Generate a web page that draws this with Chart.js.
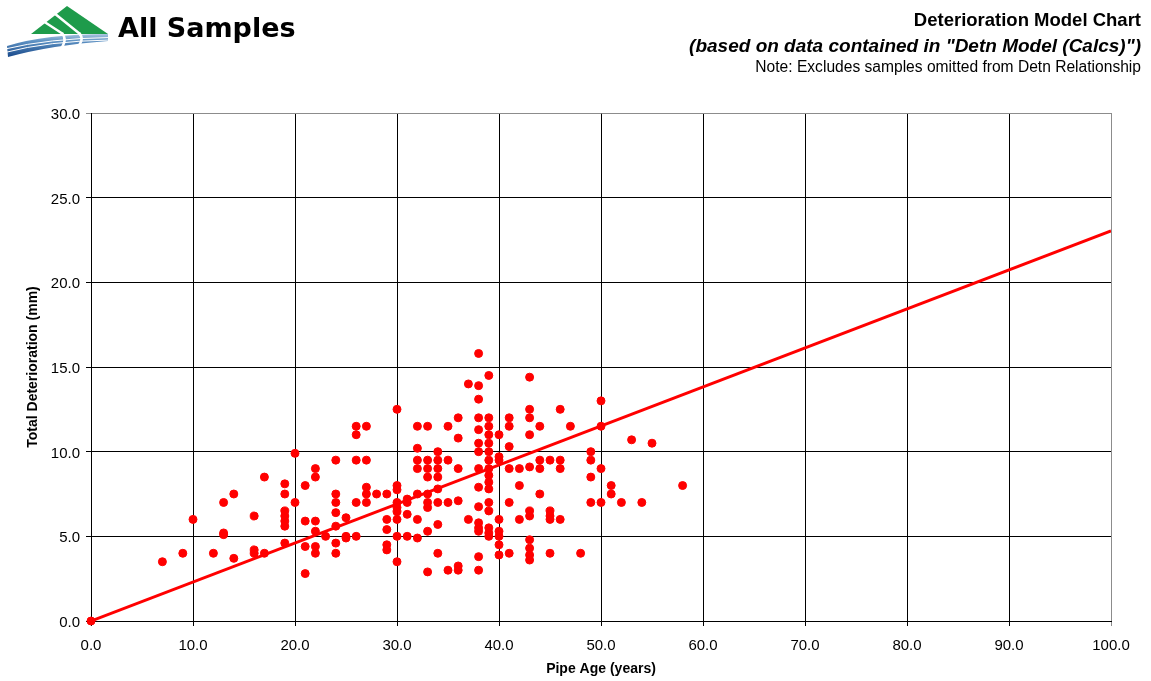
<!DOCTYPE html>
<html>
<head>
<meta charset="utf-8">
<script src="https://cdn.jsdelivr.net/npm/chart.js@4"></script>
<style>
    body { margin: 0; background: #fff; }
    #wrap { position: relative; width: 1151px; height: 681px; overflow: hidden; }
    #chart { position: absolute; left: 0; top: 0; }
    #logo { position: absolute; left: 0; top: 0; }
    .hdr { position: absolute; line-height: 1; white-space: nowrap; color: #000; }
    #title { left: 118px; top: 14px; font: bold 27px "DejaVu Sans", sans-serif; line-height: 1; }
    #line1 { right: 10px; top: 11px; font: bold 18.5px "Liberation Sans", Arial, sans-serif; line-height: 1; }
    #line2 { right: 10px; top: 36px; font: italic bold 19px "Liberation Sans", Arial, sans-serif; line-height: 1; }
    #line3 { right: 10px; top: 59px; font: 15.6px "Liberation Sans", Arial, sans-serif; line-height: 1; }
</style>
</head>
<body>
<div id="wrap">
    <canvas id="chart" width="1151" height="681"></canvas>
    <canvas id="logo" width="115" height="60"></canvas>
    <div class="hdr" id="title">All Samples</div>
    <div class="hdr" id="line1">Deterioration Model Chart</div>
    <div class="hdr" id="line2">(based on data contained in "Detn Model (Calcs)")</div>
    <div class="hdr" id="line3">Note: Excludes samples omitted from Detn Relationship</div>
</div>
<script>
// pipe age (years) of each sample column, with the deterioration readings at that age
const sampleAges = [0, 7, 9, 10, 12, 13, 14, 16, 17, 19, 20, 21, 22, 23, 24, 25, 26, 27, 28, 29,
    30, 31, 32, 33, 34, 35, 36, 37, 38, 39, 40, 41, 42, 43, 44, 45, 46, 47, 48, 49,
    50, 51, 52, 53, 54, 55, 58];
const sampleDetn = [
    [0],
    [3.5],
    [4.0],
    [6.0],
    [4.0],
    [7.0, 5.2, 5.1],
    [7.5, 3.7],
    [6.2, 4.2, 4.0],
    [8.5, 4.0],
    [8.1, 7.5, 6.5, 6.2, 5.9, 5.6, 4.6],
    [9.9, 7.0],
    [8.0, 5.9, 4.4, 2.8],
    [9.0, 8.5, 5.9, 5.3, 4.4, 4.0],
    [5.0],
    [9.5, 7.5, 7.0, 6.4, 5.6, 4.6, 4.0],
    [6.1, 5.0, 4.9],
    [11.5, 11.0, 9.5, 7.0, 5.0],
    [11.5, 9.5, 7.9, 7.5, 7.0],
    [7.5],
    [7.5, 6.0, 5.4, 4.5, 4.2],
    [12.5, 8.0, 7.75, 7.0, 6.7, 6.45, 6.0, 5.0, 3.5],
    [7.2, 7.0, 6.3, 5.0],
    [11.5, 10.2, 9.5, 9.0, 7.5, 6.0, 4.9],
    [11.5, 9.5, 9.0, 8.5, 7.5, 7.0, 6.7, 5.3, 2.9],
    [10.0, 9.5, 9.0, 8.5, 7.8, 7.0, 5.7, 4.0],
    [11.5, 9.5, 7.0, 3.0],
    [12.0, 10.8, 9.0, 7.1, 3.25, 3.0],
    [14.0, 6.0],
    [15.8, 13.9, 13.1, 12.0, 11.3, 10.5, 10.0, 9.0, 7.9, 6.75, 5.8, 5.5, 5.3, 3.8, 3.0],
    [14.5, 12.0, 11.5, 11.0, 10.5, 10.0, 9.5, 9.0, 8.6, 8.2, 7.8, 7.0, 6.5, 5.5, 5.2, 5.0],
    [11.0, 9.7, 9.5, 6.0, 5.3, 5.0, 4.5, 3.9],
    [12.0, 11.5, 10.3, 9.0, 7.0, 4.0],
    [9.0, 8.0, 6.0],
    [14.4, 12.5, 12.0, 11.0, 9.1, 6.5, 6.2, 4.8, 4.3, 3.9, 3.6],
    [11.5, 9.5, 9.0, 7.5],
    [9.5, 6.5, 6.2, 6.0, 4.0],
    [12.5, 9.5, 9.0, 6.0],
    [11.5],
    [4.0],
    [10.0, 9.5, 8.5, 7.0],
    [13.0, 11.5, 9.0, 7.0],
    [8.0, 7.5],
    [7.0],
    [10.7],
    [7.0],
    [10.5],
    [8.0]
];
// deterioration model line
const modelAges = [0, 100];
const modelDetn = [0, 23.04];

const xTicks = [0, 10, 20, 30, 40, 50, 60, 70, 80, 90, 100];
const yTicks = [0, 5, 10, 15, 20, 25, 30];

function drawLogo() {
    const c = document.getElementById('logo').getContext('2d');
    // green peaks
    c.fillStyle = '#1e9b4b';
    c.beginPath();
    c.moveTo(31, 34); c.lineTo(67, 6); c.lineTo(108, 34); c.closePath();
    c.fill();
    // white cuts between the peaks
    c.strokeStyle = '#fff';
    c.lineWidth = 2.5;
    c.beginPath();
    c.moveTo(54, 13); c.lineTo(80, 34);
    c.moveTo(43, 21); c.lineTo(63, 34);
    c.stroke();
    // blue water band
    const grad = c.createLinearGradient(0, 34, 0, 57);
    grad.addColorStop(0, '#a9c4de');
    grad.addColorStop(0.3, '#5f93c4');
    grad.addColorStop(1, '#17488a');
    c.fillStyle = grad;
    c.beginPath();
    c.moveTo(7, 46);
    c.quadraticCurveTo(45, 34, 108, 34);
    c.lineTo(108, 41);
    c.quadraticCurveTo(52, 45, 8, 57);
    c.closePath();
    c.fill();
    // thin white wave lines
    c.strokeStyle = '#fff';
    c.lineWidth = 1;
    [[37.5, 49], [40, 52.5]].forEach(([yr, yl]) => {
        c.beginPath();
        c.moveTo(5, yl);
        c.quadraticCurveTo(48, yr + 1, 110, yr);
        c.stroke();
    });
    // white cuts curving down across the water
    c.lineWidth = 2.5;
    c.beginPath();
    c.moveTo(79, 33); c.quadraticCurveTo(85, 39, 77, 48);
    c.moveTo(62, 33); c.quadraticCurveTo(68, 40, 60, 50);
    c.stroke();
}
drawLogo();

const samplePoints = [];
sampleAges.forEach((age, i) => {
    sampleDetn[i].forEach(v => samplePoints.push({x: age, y: v}));
});
const modelPoints = modelAges.map((a, i) => ({x: a, y: modelDetn[i]}));

const tickFont = {family: '"Liberation Sans", Arial, sans-serif', size: 15};
const titleFont = {family: '"Liberation Sans", Arial, sans-serif', size: 14, weight: 'bold'};

new Chart(document.getElementById('chart'), {
    type: 'scatter',
    data: {
        datasets: [{
            label: 'Samples',
            data: samplePoints,
            backgroundColor: '#ff0000',
            borderColor: '#ff0000',
            pointRadius: 4,
            borderWidth: 1,
            clip: false,
            order: 2
        }, {
            type: 'line',
            label: 'Model',
            data: modelPoints,
            borderColor: '#ff0000',
            borderWidth: 3,
            pointRadius: 0,
            fill: false,
            order: 1
        }]
    },
    options: {
        responsive: false,
        animation: false,
        layout: {padding: {left: 0, top: 113, right: 40, bottom: 0}},
        plugins: {legend: {display: false}, tooltip: {enabled: false}},
        scales: {
            x: {
                type: 'linear',
                min: 0,
                max: 100,
                afterBuildTicks: (s) => { s.ticks = xTicks.map(v => ({value: v})); },
                afterFit: (s) => { s.height = 60; },
                ticks: {
                    callback: (v) => v.toFixed(1),
                    color: '#000',
                    font: tickFont,
                    padding: 11,
                    maxRotation: 0
                },
                grid: {
                    color: (ctx) => ctx.tick && ctx.tick.value === 100 ? '#8c8c8c' : '#000',
                    lineWidth: 1,
                    tickLength: 5
                },
                border: {color: '#000', width: 1},
                title: {display: true, text: 'Pipe Age (years)', color: '#000', font: titleFont, padding: 3}
            },
            y: {
                min: 0,
                max: 30,
                afterBuildTicks: (s) => { s.ticks = yTicks.map(v => ({value: v})); },
                afterFit: (s) => { s.width = 91; },
                ticks: {
                    callback: (v) => v.toFixed(1),
                    color: '#000',
                    font: tickFont,
                    padding: 6,
                    labelOffset: 2
                },
                grid: {
                    color: (ctx) => ctx.tick && ctx.tick.value === 30 ? '#8c8c8c' : '#000',
                    lineWidth: 1,
                    tickLength: 5
                },
                border: {color: '#000', width: 1},
                title: {display: true, text: 'Total Deterioration (mm)', color: '#000', font: titleFont, padding: 25}
            }
        }
    }
});
</script>
</body>
</html>
